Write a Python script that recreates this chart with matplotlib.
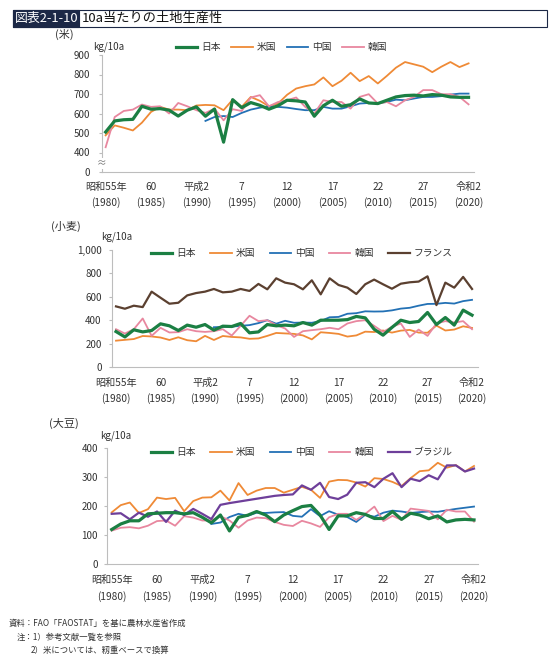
import matplotlib
matplotlib.use("Agg")
import matplotlib.pyplot as plt
import matplotlib.transforms as mtransforms
from matplotlib.patches import Rectangle
import numpy as np

plt.rcParams['font.family'] = ['Noto Sans CJK JP', 'DejaVu Sans']

# ---- data (kg/10a) ----
years = np.arange(1980, 2021)
years_cn = np.arange(1991, 2021)

tick_years = [1980, 1985, 1990, 1995, 2000, 2005, 2010, 2015, 2020]
era_labels = ["昭和55年", "60", "平成2", "7", "12", "17", "22", "27", "令和2"]
year_labels = ["(1980)", "(1985)", "(1990)", "(1995)", "(2000)",
               "(2005)", "(2010)", "(2015)", "(2020)"]

# rice
jp_rice = [505, 562, 568, 570, 637, 622, 625, 617, 587, 617,
           634, 586, 623, 453, 671, 630, 656, 642, 622, 640,
           668, 665, 659, 586, 640, 668, 637, 645, 675, 654,
           651, 668, 685, 692, 694, 690, 697, 694, 685, 683, 683]
us_rice = [488, 539, 527, 513, 553, 608, 634, 620, 620, 617,
           641, 644, 642, 617, 671, 634, 685, 665, 637, 651,
           696, 728, 740, 749, 785, 740, 768, 809, 766, 792,
           754, 793, 835, 864, 852, 840, 812, 840, 864, 838, 857]
cn_rice = [562, 582, 587, 582, 603, 620, 630, 637, 634,
           630, 623, 617, 617, 634, 625, 625, 637, 651, 654,
           654, 659, 671, 668, 677, 685, 685, 689, 697, 702, 702]
kr_rice = [427, 582, 613, 620, 646, 634, 637, 600, 654, 637,
           617, 603, 625, 565, 622, 613, 682, 694, 637, 659,
           668, 682, 634, 600, 668, 659, 659, 625, 685, 699,
           651, 659, 637, 668, 685, 720, 720, 699, 699, 685, 647]

# wheat
jp_wheat = [303, 257, 318, 300, 312, 369, 352, 312, 358, 340,
            363, 315, 349, 346, 372, 292, 300, 363, 352, 358,
            352, 380, 358, 400, 400, 400, 405, 432, 420, 323,
            272, 338, 400, 380, 389, 466, 363, 423, 358, 486, 443]
us_wheat = [225, 232, 239, 265, 261, 252, 231, 254, 229, 220,
            266, 231, 265, 257, 253, 241, 244, 266, 291, 287,
            283, 270, 236, 297, 291, 283, 260, 270, 302, 299,
            312, 294, 311, 317, 294, 293, 354, 312, 320, 348, 334]
cn_wheat = [340, 343, 345, 352, 358, 375, 400, 370, 395,
            378, 380, 378, 393, 425, 428, 455, 460, 476, 474,
            475, 484, 499, 506, 524, 539, 540, 548, 542, 563, 574]
kr_wheat = [323, 286, 323, 415, 266, 335, 295, 298, 323, 306,
            300, 306, 323, 269, 352, 438, 392, 400, 358, 329,
            257, 306, 315, 323, 335, 323, 372, 392, 400, 352,
            300, 343, 372, 257, 320, 266, 372, 392, 380, 392, 323]
fr_wheat = [518, 498, 524, 512, 644, 592, 541, 549, 612, 632,
            644, 667, 638, 644, 667, 650, 710, 664, 758, 721,
            707, 664, 741, 621, 758, 701, 678, 624, 707, 747,
            707, 669, 712, 724, 730, 775, 529, 721, 678, 770, 667]

# soybean
jp_soy = [119, 138, 149, 149, 173, 175, 177, 177, 173, 177,
          161, 142, 169, 114, 161, 168, 181, 169, 146, 169,
          184, 198, 202, 169, 119, 166, 166, 177, 171, 157,
          157, 181, 154, 175, 169, 156, 166, 145, 152, 154, 152]
us_soy = [178, 203, 212, 176, 189, 229, 224, 228, 182, 217,
          229, 230, 253, 219, 279, 238, 253, 262, 262, 246,
          256, 266, 256, 228, 284, 290, 289, 281, 267, 296,
          293, 283, 269, 296, 320, 323, 349, 332, 341, 319, 338]
cn_soy = [138, 143, 162, 173, 166, 177, 176, 178, 179,
          166, 163, 189, 165, 182, 170, 162, 145, 170, 163,
          177, 184, 181, 176, 179, 181, 180, 185, 190, 194, 198]
kr_soy = [115, 125, 127, 123, 132, 148, 150, 132, 165, 160,
          150, 150, 165, 150, 125, 150, 160, 158, 145, 135,
          131, 149, 140, 128, 161, 173, 173, 152, 173, 198,
          148, 166, 152, 191, 187, 183, 154, 187, 181, 181, 146]
br_soy = [173, 175, 154, 177, 163, 181, 145, 184, 169, 190,
          173, 155, 204, 210, 215, 220, 225, 230, 235, 238,
          240, 271, 256, 280, 231, 224, 239, 280, 282, 265,
          294, 313, 265, 294, 286, 306, 292, 340, 340, 319, 329]

# ---- style ----
C_JP = '#1b7f43'
C_US = '#ef8a36'
C_CN = '#2371b5'
C_KR = '#e8879f'
C_FR = '#5b4030'
C_BR = '#6e3f9a'
NAVY = '#1c2846'
SPINE = '#bdbdbd'
TXT = '#333333'

W, H = 549, 661
fig = plt.figure(figsize=(W / 100, H / 100), dpi=100)


def fx(px):
    return px / W


def fy(py):
    return 1 - py / H


def make_ax(left, right, top, bottom):
    ax = fig.add_axes([fx(left), fy(bottom), fx(right - left), (bottom - top) / H])
    for s in ['top', 'right']:
        ax.spines[s].set_visible(False)
    for s in ['left', 'bottom']:
        ax.spines[s].set_color(SPINE)
        ax.spines[s].set_linewidth(0.8)
    ax.tick_params(axis='x', length=0, labelbottom=False)
    ax.tick_params(axis='y', length=2.5, color=SPINE, labelsize=7, labelcolor=TXT)
    return ax


def year_axis(ax, off1, off2):
    ax.set_xticks(tick_years)
    for yr, a, b in zip(tick_years, era_labels, year_labels):
        ax.annotate(a, xy=(yr, 0), xycoords=('data', 'axes fraction'), xytext=(0, off1),
                    textcoords='offset pixels', ha='center', va='center', fontsize=7.3, color=TXT)
        ax.annotate(b, xy=(yr, 0), xycoords=('data', 'axes fraction'), xytext=(0, off2),
                    textcoords='offset pixels', ha='center', va='center', fontsize=7.3, color=TXT)


def add_legend(ax, x, y, colspace):
    ax.legend(loc='center left', bbox_to_anchor=(fx(x), fy(y)), bbox_transform=fig.transFigure,
              ncol=5, frameon=False, fontsize=7, handlelength=2.2, handletextpad=0.4,
              columnspacing=colspace, borderpad=0, borderaxespad=0, labelcolor=TXT)


# ---- title bar ----
fig.patches.append(Rectangle((fx(13), fy(27)), fx(547 - 13), 17 / H, transform=fig.transFigure,
                             facecolor='white', edgecolor=NAVY, linewidth=0.8))
fig.patches.append(Rectangle((fx(13), fy(27)), fx(79 - 13), 17 / H, transform=fig.transFigure,
                             facecolor=NAVY, edgecolor=NAVY, linewidth=0.8))
fig.text(fx(15), fy(18.5), "図表2-1-10", color='white', fontsize=9.3, va='center', ha='left')
fig.text(fx(82), fy(18.5), "10a当たりの土地生産性", color='#111111', fontsize=9.5, va='center', ha='left')

# ---- rice (axis break: 0 then 400..900) ----
ax1 = make_ax(102, 474, 55, 172)
shift = 300
ax1.plot(years, np.array(jp_rice) - shift, color=C_JP, lw=2.3, label='日本', zorder=4)
ax1.plot(years, np.array(us_rice) - shift, color=C_US, lw=1.3, label='米国', zorder=3)
ax1.plot(years_cn, np.array(cn_rice) - shift, color=C_CN, lw=1.3, label='中国', zorder=3)
ax1.plot(years, np.array(kr_rice) - shift, color=C_KR, lw=1.3, label='韓国', zorder=3)
ax1.set_ylim(0, 600)
ax1.set_xlim(1979.6, 2020.6)
ax1.set_yticks([0, 100, 200, 300, 400, 500, 600])
ax1.set_yticklabels(['0', '400', '500', '600', '700', '800', '900'])
ax1.tick_params(axis='y', pad=6)
ax1.text(0, 45, '≈', transform=mtransforms.blended_transform_factory(ax1.transAxes, ax1.transData),
         ha='center', va='center', fontsize=7, color='#777777', clip_on=False, zorder=6,
         bbox=dict(facecolor='white', edgecolor='none', pad=0.3))
year_axis(ax1, -15, -31)
add_legend(ax1, 176, 47, 1.1)
fig.text(fx(55), fy(34), "(米)", fontsize=8, va='center', ha='left', color=TXT)
fig.text(fx(93), fy(47), "kg/10a", fontsize=7, va='center', ha='left', color=TXT)

# ---- wheat ----
ax2 = make_ax(112, 478, 250, 367)
ax2.plot(years, jp_wheat, color=C_JP, lw=2.3, label='日本', zorder=4)
ax2.plot(years, us_wheat, color=C_US, lw=1.3, label='米国', zorder=3)
ax2.plot(years_cn, cn_wheat, color=C_CN, lw=1.3, label='中国', zorder=3)
ax2.plot(years, kr_wheat, color=C_KR, lw=1.3, label='韓国', zorder=3)
ax2.plot(years, fr_wheat, color=C_FR, lw=1.6, label='フランス', zorder=3)
ax2.set_ylim(0, 1000)
ax2.set_xlim(1979.55, 2020.67)
ax2.set_yticks([0, 200, 400, 600, 800, 1000])
ax2.set_yticklabels(['0', '200', '400', '600', '800', '1,000'])
ax2.tick_params(axis='y', pad=5)
year_axis(ax2, -16, -32)
add_legend(ax2, 151, 253, 1.5)
fig.text(fx(51), fy(226), "(小麦)", fontsize=8, va='center', ha='left', color=TXT)
fig.text(fx(101), fy(237), "kg/10a", fontsize=7, va='center', ha='left', color=TXT)

# ---- soybean ----
ax3 = make_ax(107, 478, 448, 564)
ax3.plot(years, jp_soy, color=C_JP, lw=2.3, label='日本', zorder=4)
ax3.plot(years, us_soy, color=C_US, lw=1.3, label='米国', zorder=3)
ax3.plot(years_cn, cn_soy, color=C_CN, lw=1.3, label='中国', zorder=3)
ax3.plot(years, kr_soy, color=C_KR, lw=1.3, label='韓国', zorder=3)
ax3.plot(years, br_soy, color=C_BR, lw=1.6, label='ブラジル', zorder=3)
ax3.set_ylim(0, 400)
ax3.set_xlim(1979.48, 2020.44)
ax3.set_yticks([0, 100, 200, 300, 400])
ax3.tick_params(axis='y', pad=4)
year_axis(ax3, -16, -33)
add_legend(ax3, 151, 452, 1.5)
fig.text(fx(49), fy(423), "(大豆)", fontsize=8, va='center', ha='left', color=TXT)
fig.text(fx(100), fy(436), "kg/10a", fontsize=7, va='center', ha='left', color=TXT)

# ---- notes ----
fig.text(fx(9), fy(623), "資料：FAO「FAOSTAT」を基に農林水産省作成", fontsize=6, va='center', color=TXT)
fig.text(fx(17), fy(637), "注：1）参考文献一覧を参照", fontsize=6, va='center', color=TXT)
fig.text(fx(31), fy(650), "2）米については、籾重ベースで換算", fontsize=6, va='center', color=TXT)

fig.savefig('out.png', dpi=100)
